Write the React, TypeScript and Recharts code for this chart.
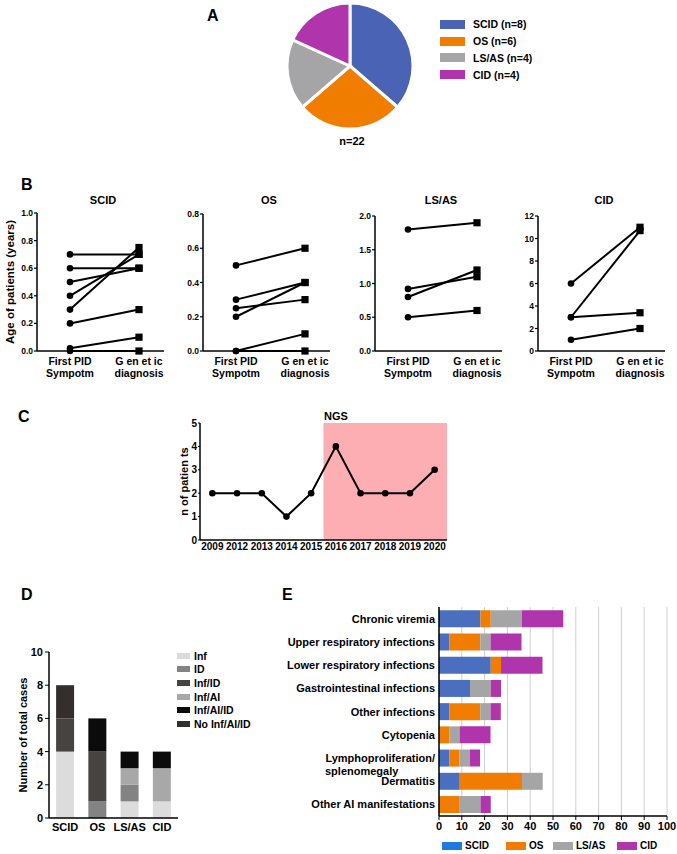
import React from "react";
import {
  PieChart,
  Pie,
  Cell,
  LineChart,
  Line,
  XAxis,
  YAxis,
  BarChart,
  Bar,
  CartesianGrid,
  ReferenceArea,
  Label,
} from "recharts";

const FONT = '"Liberation Sans", Arial, Helvetica, sans-serif';

// ---- A: patient groups
const groups = ["SCID", "OS", "LS/AS", "CID"];
const groupCounts = [8, 6, 4, 4];
const pieColors = ["#4a63b5", "#f07d00", "#a5a5a8", "#b035ad"];

// ---- B: age at first symptom vs genetic diagnosis
const stages = ["First PID\nSympotm", "G en et ic\ndiagnosis"];
const scidFirst = [0.7, 0.6, 0.5, 0.4, 0.3, 0.2, 0.02, 0];
const scidGenetic = [0.7, 0.6, 0.6, 0.7, 0.75, 0.3, 0.1, 0];
const osFirst = [0.5, 0.3, 0.25, 0.2, 0, 0];
const osGenetic = [0.6, 0.4, 0.3, 0.4, 0.1, 0];
const lsasFirst = [1.8, 0.92, 0.8, 0.5];
const lsasGenetic = [1.9, 1.1, 1.2, 0.6];
const cidFirst = [6, 3, 3, 1];
const cidGenetic = [11, 10.7, 3.4, 2];
const scidTicks = [0, 0.2, 0.4, 0.6, 0.8, 1.0];
const osTicks = [0, 0.2, 0.4, 0.6, 0.8];
const lsasTicks = [0, 0.5, 1.0, 1.5, 2.0];
const cidTicks = [0, 2, 4, 6, 8, 10, 12];

// ---- C: patients per year
const years = ["2009", "2012", "2013", "2014", "2015", "2016", "2017", "2018", "2019", "2020"];
const patientsPerYear = [2, 2, 2, 1, 2, 4, 2, 2, 2, 3];
const ngsFrom = "2016";
const ngsTo = "2020";

// ---- D: clinical presentation per group
const dCategories = ["Inf", "ID", "Inf/ID", "Inf/AI", "Inf/AI/ID", "No Inf/AI/ID"];
const dColors = ["#dcdcdc", "#838383", "#474341", "#a8a8a8", "#0b0b0b", "#342f2d"];
const dInf = [4, 0, 1, 1];
const dID = [0, 1, 1, 0];
const dInfID = [2, 3, 0, 0];
const dInfAI = [0, 0, 1, 2];
const dInfAIID = [0, 2, 1, 1];
const dNone = [2, 0, 0, 0];
const dTicks = [0, 2, 4, 6, 8, 10];

// ---- E: manifestations (% of patients)
const manifestations = [
  "Chronic viremia",
  "Upper respiratory infections",
  "Lower respiratory infections",
  "Gastrointestinal infections",
  "Other infections",
  "Cytopenia",
  "Lymphoproliferation/\nsplenomegaly",
  "Dermatitis",
  "Other AI manifestations",
];
const eScid = [18.2, 4.5, 22.7, 13.6, 4.5, 0, 4.5, 9.1, 0];
const eOs = [4.5, 13.6, 4.5, 0, 13.6, 4.5, 4.5, 27.3, 9.1];
const eLsas = [13.6, 4.5, 0, 9.1, 4.5, 4.5, 4.5, 9.1, 9.1];
const eCid = [18.2, 13.6, 18.2, 4.5, 4.5, 13.6, 4.5, 0, 4.5];
const eTicks = [0, 10, 20, 30, 40, 50, 60, 70, 80, 90, 100];
const eBarColors = ["#4a6fbe", "#f07d00", "#a5a5a5", "#b035ad"];
const eLegendColors = ["#1f7ae0", "#f07d00", "#a5a5a5", "#b035ad"];

const bold = { fontFamily: FONT, fontWeight: 700, color: "#000" } as const;

function Letter({ text, x, y }: { text: string; x: number; y: number }) {
  return (
    <div style={{ ...bold, position: "absolute", left: x, top: y, fontSize: 16, lineHeight: "16px" }}>
      {text}
    </div>
  );
}

function VLabel({ viewBox, value, x, size }: any) {
  const cy = viewBox.y + viewBox.height / 2;
  return (
    <text
      x={x}
      y={cy}
      transform={`rotate(-90 ${x} ${cy})`}
      textAnchor="middle"
      dominantBaseline="central"
      fontFamily={FONT}
      fontSize={size}
      fontWeight={700}
      fill="#000"
    >
      {value}
    </text>
  );
}

const PairDot = (props: any) => {
  const { cx, cy, index } = props;
  if (cx == null || cy == null) return null;
  if (index === 0) return <circle cx={cx} cy={cy} r={3.3} fill="#000" />;
  return <rect x={cx - 3.6} y={cy - 3.6} width={7.2} height={7.2} fill="#000" />;
};

const StageTick = (props: any) => {
  const { x, y, payload } = props;
  const lines = String(payload.value).split("\n");
  return (
    <text x={x} y={y} textAnchor="middle" fontFamily={FONT} fontSize={10.5} fontWeight={700} fill="#000">
      {lines.map((l, i) => (
        <tspan key={i} x={x} dy={i === 0 ? 14 : 12}>
          {l}
        </tspan>
      ))}
    </text>
  );
};

function PairPlot(props: {
  title: string;
  first: number[];
  genetic: number[];
  ticks: number[];
  left: number;
  plotTop: number;
  digits: number;
  yLabel?: string;
}) {
  const { title, first, genetic, ticks, left, plotTop, digits, yLabel } = props;
  const top = 195;
  const data = stages.map((s, i) => {
    const row: any = { stage: s };
    (i === 0 ? first : genetic).forEach((v, k) => (row["p" + k] = v));
    return row;
  });
  return (
    <div style={{ position: "absolute", left, top }}>
      <LineChart
        width={172}
        height={190}
        data={data}
        margin={{ top: plotTop - top, right: 8, bottom: 4, left: 0 }}
      >
        <XAxis
          dataKey="stage"
          scale="point"
          padding={{ left: 33, right: 25 }}
          interval={0}
          tickLine={false}
          tickSize={0}
          tickMargin={0}
          height={30}
          axisLine={{ stroke: "#000", strokeWidth: 1.5 }}
          tick={<StageTick />}
        />
        <YAxis
          domain={[0, ticks[ticks.length - 1]]}
          ticks={ticks}
          width={37}
          tickSize={3}
          tickMargin={1}
          tickFormatter={(v: number) => v.toFixed(digits)}
          axisLine={{ stroke: "#000", strokeWidth: 1.5 }}
          tickLine={{ stroke: "#000", strokeWidth: 1.2 }}
          tick={{ fill: "#000", fontSize: 8.5, fontWeight: 700, fontFamily: FONT }}
        >
          {yLabel ? <Label content={(p: any) => <VLabel {...p} value={yLabel} x={10} size={11.5} />} /> : null}
        </YAxis>
        {first.map((_, k) => (
          <Line
            key={k}
            type="linear"
            dataKey={"p" + k}
            stroke="#000"
            strokeWidth={2}
            dot={<PairDot />}
            activeDot={false}
            isAnimationActive={false}
          />
        ))}
      </LineChart>
      <div
        style={{
          ...bold,
          position: "absolute",
          left: 37,
          width: 132,
          top: -1,
          textAlign: "center",
          fontSize: 11,
        }}
      >
        {title}
      </div>
    </div>
  );
}

const MTick = (props: any) => {
  const { x, y, payload } = props;
  const lines = String(payload.value).split("\n");
  const common = { fontFamily: FONT, fontSize: 11, fontWeight: 700, fill: "#000" };
  if (lines.length > 1) {
    return (
      <g>
        <text x={x} y={y} dy={4} textAnchor="end" {...common}>
          {lines[0]}
        </text>
        <text x={x - 110} y={y} dy={17.5} textAnchor="start" {...common}>
          {lines[1]}
        </text>
      </g>
    );
  }
  return (
    <text x={x} y={y} dy={4} textAnchor="end" {...common}>
      {lines[0]}
    </text>
  );
};

export default function App() {
  const pieData = groups.map((g, i) => ({ name: g, value: groupCounts[i] }));
  const yearData = years.map((y, i) => ({ year: y, n: patientsPerYear[i] }));
  const dSeries = [dInf, dID, dInfID, dInfAI, dInfAIID, dNone];
  const dData = groups.map((g, i) => {
    const row: any = { name: g };
    dCategories.forEach((c, k) => (row[c] = dSeries[k][i]));
    return row;
  });
  const eSeries = [eScid, eOs, eLsas, eCid];
  const eData = manifestations.map((m, i) => {
    const row: any = { name: m };
    groups.forEach((g, k) => (row[g] = eSeries[k][i]));
    return row;
  });
  const eLegendX = [442, 506, 553, 617];

  return (
    <div style={{ position: "absolute", left: 0, top: 0, width: 677, height: 854, background: "#fff", overflow: "hidden" }}>
      {/* A */}
      <Letter text="A" x={207} y={8} />
      <div style={{ position: "absolute", left: 280, top: 0 }}>
        <PieChart width={140} height={135} margin={{ top: 0, right: 0, bottom: 0, left: 0 }}>
          <Pie
            data={pieData}
            dataKey="value"
            cx={70}
            cy={66}
            outerRadius={63}
            startAngle={90}
            endAngle={-270}
            stroke="#fff"
            strokeWidth={3}
            isAnimationActive={false}
          >
            {pieData.map((d, i) => (
              <Cell key={d.name} fill={pieColors[i]} />
            ))}
          </Pie>
        </PieChart>
      </div>
      <div style={{ ...bold, position: "absolute", left: 330, width: 44, top: 135, textAlign: "center", fontSize: 11 }}>
        n=22
      </div>
      <div style={{ position: "absolute", left: 440, top: 16 }}>
        {groups.map((g, i) => (
          <div key={g} style={{ display: "flex", alignItems: "center", height: 16.8 }}>
            <div style={{ width: 25, height: 9, background: pieColors[i], marginRight: 8 }} />
            <span style={{ ...bold, fontSize: 10.5 }}>
              {g} (n={groupCounts[i]})
            </span>
          </div>
        ))}
      </div>

      {/* B */}
      <Letter text="B" x={21} y={177} />
      <PairPlot title="SCID" first={scidFirst} genetic={scidGenetic} ticks={scidTicks} left={0} plotTop={213} digits={1} yLabel="Age of patients (years)" />
      <PairPlot title="OS" first={osFirst} genetic={osGenetic} ticks={osTicks} left={166} plotTop={214} digits={1} />
      <PairPlot title="LS/AS" first={lsasFirst} genetic={lsasGenetic} ticks={lsasTicks} left={338} plotTop={216} digits={1} />
      <PairPlot title="CID" first={cidFirst} genetic={cidGenetic} ticks={cidTicks} left={501} plotTop={216} digits={0} />

      {/* C */}
      <Letter text="C" x={18} y={409} />
      <div style={{ position: "absolute", left: 150, top: 405 }}>
        <LineChart width={310} height={165} data={yearData} margin={{ top: 18, right: 13, bottom: 10, left: 0 }}>
          <ReferenceArea x1={ngsFrom} x2={ngsTo} fill="#fdaeb2" fillOpacity={1} stroke="none" />
          <XAxis
            dataKey="year"
            scale="band"
            interval={0}
            tickLine={false}
            tickSize={0}
            tickMargin={3}
            height={20}
            axisLine={{ stroke: "#000", strokeWidth: 1.5 }}
            tick={{ fill: "#000", fontSize: 10, fontWeight: 700, fontFamily: FONT }}
          />
          <YAxis
            domain={[0, 5]}
            ticks={[0, 1, 2, 3, 4, 5]}
            width={50}
            tickSize={2}
            tickMargin={1}
            axisLine={{ stroke: "#000", strokeWidth: 1.5 }}
            tickLine={{ stroke: "#000" }}
            tick={{ fill: "#000", fontSize: 10, fontWeight: 700, fontFamily: FONT }}
          >
            <Label content={(p: any) => <VLabel {...p} value="n of patien ts" x={34} size={11} />} />
          </YAxis>
          <Line
            type="linear"
            dataKey="n"
            stroke="#000"
            strokeWidth={2}
            dot={{ r: 3.3, fill: "#000", stroke: "#000", strokeWidth: 0 }}
            activeDot={false}
            isAnimationActive={false}
          />
        </LineChart>
      </div>
      <div style={{ ...bold, position: "absolute", left: 324, top: 410, fontSize: 11 }}>NGS</div>

      {/* D */}
      <Letter text="D" x={21} y={587} />
      <div style={{ position: "absolute", left: 0, top: 600 }}>
        <BarChart width={190} height={240} data={dData} barCategoryGap="22%" margin={{ top: 52, right: 12, bottom: 2, left: 0 }}>
          <XAxis
            dataKey="name"
            interval={0}
            tickLine={false}
            tickSize={0}
            tickMargin={5}
            height={20}
            axisLine={{ stroke: "#000", strokeWidth: 1.5 }}
            tick={{ fill: "#000", fontSize: 11, fontWeight: 700, fontFamily: FONT }}
          />
          <YAxis
            domain={[0, 10]}
            ticks={dTicks}
            width={49}
            tickSize={4}
            tickMargin={2}
            axisLine={{ stroke: "#000", strokeWidth: 1.5 }}
            tickLine={{ stroke: "#000" }}
            tick={{ fill: "#000", fontSize: 11, fontWeight: 700, fontFamily: FONT }}
          >
            <Label content={(p: any) => <VLabel {...p} value="Number of total cases" x={23} size={11} />} />
          </YAxis>
          {dCategories.map((c, k) => (
            <Bar key={c} dataKey={c} stackId="d" fill={dColors[k]} isAnimationActive={false} />
          ))}
        </BarChart>
      </div>
      <div style={{ position: "absolute", left: 177, top: 649 }}>
        {dCategories.map((c, k) => (
          <div key={c} style={{ display: "flex", alignItems: "center", height: 13.6 }}>
            <div style={{ width: 13, height: 6, background: dColors[k], marginRight: 4 }} />
            <span style={{ ...bold, fontSize: 10.5 }}>{c}</span>
          </div>
        ))}
      </div>

      {/* E */}
      <Letter text="E" x={282} y={587} />
      <div style={{ position: "absolute", left: 220, top: 600 }}>
        <BarChart
          width={457}
          height={252}
          data={eData}
          layout="vertical"
          barCategoryGap="14%"
          margin={{ top: 7, right: 10, bottom: 16, left: 0 }}
        >
          <CartesianGrid horizontal={false} stroke="#cfcfcf" strokeWidth={1} />
          <XAxis
            type="number"
            domain={[0, 100]}
            ticks={eTicks}
            interval={0}
            height={20}
            tickSize={4}
            tickMargin={2}
            axisLine={{ stroke: "#000", strokeWidth: 1.5 }}
            tickLine={{ stroke: "#000" }}
            tick={{ fill: "#000", fontSize: 11, fontWeight: 700, fontFamily: FONT }}
          />
          <YAxis
            type="category"
            dataKey="name"
            width={219}
            interval={0}
            tickLine={false}
            tickSize={0}
            tickMargin={4}
            axisLine={{ stroke: "#000", strokeWidth: 1.5 }}
            tick={<MTick />}
          />
          {groups.map((g, k) => (
            <Bar key={g} dataKey={g} stackId="e" fill={eBarColors[k]} isAnimationActive={false} />
          ))}
        </BarChart>
      </div>
      {groups.map((g, k) => (
        <div
          key={g}
          style={{ position: "absolute", left: eLegendX[k], top: 840, height: 12, display: "flex", alignItems: "center" }}
        >
          <div style={{ width: 20, height: 8, background: eLegendColors[k], marginRight: 3 }} />
          <span style={{ ...bold, fontSize: 10, lineHeight: "12px" }}>{g}</span>
        </div>
      ))}
    </div>
  );
}
